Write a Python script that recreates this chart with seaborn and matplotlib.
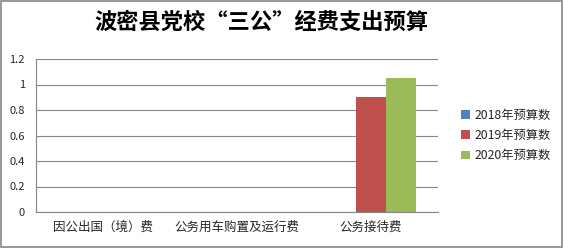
import matplotlib
matplotlib.use("Agg")
import matplotlib.pyplot as plt
import seaborn as sns
import pandas as pd
from matplotlib.patches import Rectangle

categories = ["因公出国（境）费", "公务用车购置及运行费", "公务接待费"]
series = ["2018年预算数", "2019年预算数", "2020年预算数"]
v2018 = [0, 0, 0]
v2019 = [0, 0, 0.9]
v2020 = [0, 0, 1.05]
yticks = [0, 0.2, 0.4, 0.6, 0.8, 1, 1.2]
ytick_labels = ["0", "0.2", "0.4", "0.6", "0.8", "1", "1.2"]
title = "波密县党校“三公”经费支出预算"
colors = ["#4F81BD", "#C0504D", "#9BBB59"]

rows = []
for s, vals in zip(series, [v2018, v2019, v2020]):
    for c, v in zip(categories, vals):
        rows.append({"cat": c, "series": s, "value": v})
df = pd.DataFrame(rows)

sns.set_theme(style="white")
plt.rcParams['font.family'] = ['Noto Sans CJK SC', 'DejaVu Sans']

fig = plt.figure(figsize=(5.64, 2.48), dpi=100)
ax = fig.add_axes([36/564, 1 - 212/248, (438-36)/564, (212-59)/248])
sns.barplot(data=df, x="cat", y="value", hue="series", palette=colors,
            width=0.67, ax=ax, saturation=1, legend=True, linewidth=0)

ax.set_ylim(0, 1.2)
ax.set_yticks(yticks)
ax.set_yticklabels(ytick_labels, fontsize=8)
ax.set_xlabel("")
ax.set_ylabel("")
ax.tick_params(axis='x', labelsize=9, length=0, pad=6)
ax.tick_params(axis='y', length=0, pad=8)
ax.yaxis.grid(True, color="#868686", linewidth=0.8)
ax.set_axisbelow(True)
for sp in ["top", "right"]:
    ax.spines[sp].set_visible(False)
for sp in ["left", "bottom"]:
    ax.spines[sp].set_color("#868686")
    ax.spines[sp].set_linewidth(0.8)

leg = ax.legend(loc="center left", bbox_to_anchor=(1.03, 0.5), frameon=False,
                fontsize=8.8, handlelength=0.7, handleheight=0.7,
                handletextpad=0.4, labelspacing=0.6)

fig.text(261/564, 1 - 22/248, title, ha="center", va="center", fontsize=16,
         fontweight="bold", color="black")

fig.patches.append(Rectangle((0.002, 0.004), 0.995, 0.99, transform=fig.transFigure,
                             fill=False, edgecolor="#868686", linewidth=1.2))

fig.savefig("out.png", dpi=100)
